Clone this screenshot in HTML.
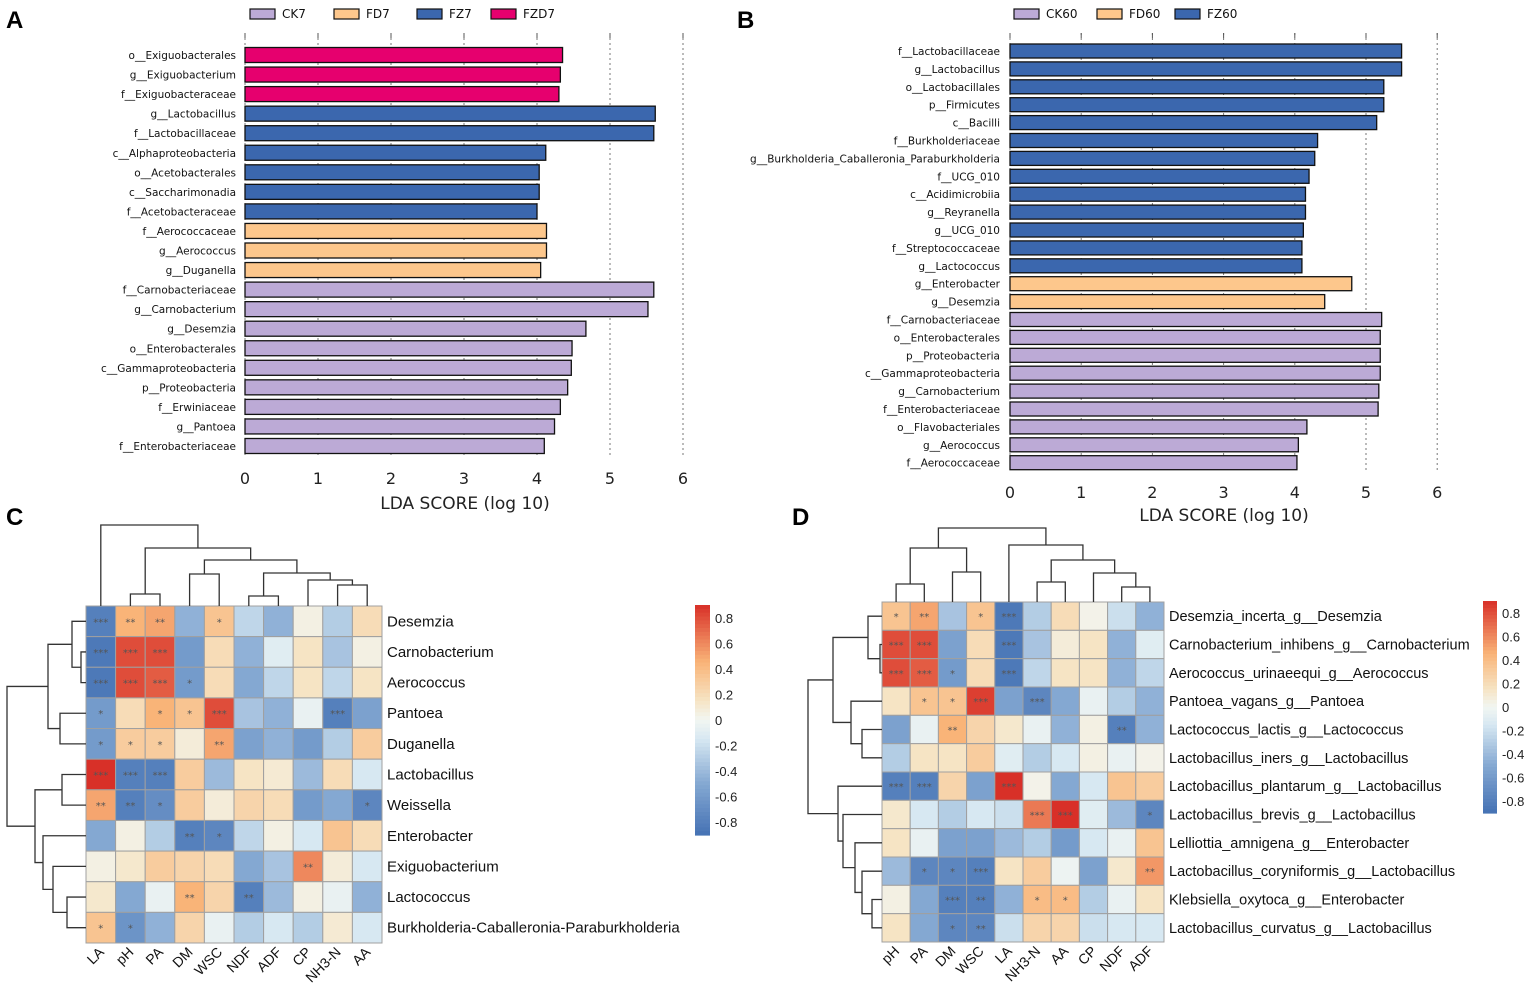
<!DOCTYPE html>
<html><head><meta charset="utf-8">
<style>
html,body{margin:0;padding:0;background:#fff;}
svg{display:block;font-family:"DejaVu Sans","Liberation Sans",sans-serif;}
</style></head>
<body>
<svg id="fig" width="1535" height="1008" viewBox="0 0 1535 1008" xmlns="http://www.w3.org/2000/svg">
<text x="6" y="28" font-size="24" font-weight="bold" font-family="Liberation Sans, sans-serif">A</text>
<text x="737" y="28" font-size="24" font-weight="bold" font-family="Liberation Sans, sans-serif">B</text>
<text x="6" y="525" font-size="24" font-weight="bold" font-family="Liberation Sans, sans-serif">C</text>
<text x="792" y="525" font-size="24" font-weight="bold" font-family="Liberation Sans, sans-serif">D</text>
<g id="gA"></g>
<g id="gB"></g>
<g id="gC"></g>
<g id="gD"></g>
</svg>
<script>
// ---------- Data: Chart A ----------
const aLabels = ["o__Exiguobacterales","g__Exiguobacterium","f__Exiguobacteraceae","g__Lactobacillus","f__Lactobacillaceae","c__Alphaproteobacteria","o__Acetobacterales","c__Saccharimonadia","f__Acetobacteraceae","f__Aerococcaceae","g__Aerococcus","g__Duganella","f__Carnobacteriaceae","g__Carnobacterium","g__Desemzia","o__Enterobacterales","c__Gammaproteobacteria","p__Proteobacteria","f__Erwiniaceae","g__Pantoea","f__Enterobacteriaceae"];
const aValues = [4.35,4.32,4.30,5.62,5.60,4.12,4.03,4.03,4.00,4.13,4.13,4.05,5.60,5.52,4.67,4.48,4.47,4.42,4.32,4.24,4.10];
const aGroups = ["FZD7","FZD7","FZD7","FZ7","FZ7","FZ7","FZ7","FZ7","FZ7","FD7","FD7","FD7","CK7","CK7","CK7","CK7","CK7","CK7","CK7","CK7","CK7"];
const aLegend = ["CK7","FD7","FZ7","FZD7"];
// ---------- Data: Chart B ----------
const bLabels = ["f__Lactobacillaceae","g__Lactobacillus","o__Lactobacillales","p__Firmicutes","c__Bacilli","f__Burkholderiaceae","g__Burkholderia_Caballeronia_Paraburkholderia","f__UCG_010","c__Acidimicrobiia","g__Reyranella","g__UCG_010","f__Streptococcaceae","g__Lactococcus","g__Enterobacter","g__Desemzia","f__Carnobacteriaceae","o__Enterobacterales","p__Proteobacteria","c__Gammaproteobacteria","g__Carnobacterium","f__Enterobacteriaceae","o__Flavobacteriales","g__Aerococcus","f__Aerococcaceae"];
const bValues = [5.50,5.50,5.25,5.25,5.15,4.32,4.28,4.20,4.15,4.15,4.12,4.10,4.10,4.80,4.42,5.22,5.20,5.20,5.20,5.18,5.17,4.17,4.05,4.03];
const bGroups = ["FZ60","FZ60","FZ60","FZ60","FZ60","FZ60","FZ60","FZ60","FZ60","FZ60","FZ60","FZ60","FZ60","FD60","FD60","CK60","CK60","CK60","CK60","CK60","CK60","CK60","CK60","CK60"];
const bLegend = ["CK60","FD60","FZ60"];
const ldaTicks = [0,1,2,3,4,5,6];
// ---------- Data: Heatmap C ----------
const cRows = ["Desemzia","Carnobacterium","Aerococcus","Pantoea","Duganella","Lactobacillus","Weissella","Enterobacter","Exiguobacterium","Lactococcus","Burkholderia-Caballeronia-Paraburkholderia"];
const cCols = ["LA","pH","PA","DM","WSC","NDF","ADF","CP","NH3-N","AA"];
const cVals = [
[-0.8,0.45,0.5,-0.45,0.35,-0.25,-0.45,0.05,-0.3,0.2],
[-0.85,0.8,0.8,-0.6,0.2,-0.45,-0.1,0.15,-0.35,0.05],
[-0.85,0.8,0.75,-0.6,0.2,-0.5,-0.25,0.15,-0.25,0.15],
[-0.6,0.2,0.45,0.35,0.8,-0.35,-0.45,-0.05,-0.8,-0.55],
[-0.6,0.3,0.3,0.08,0.5,-0.55,-0.45,-0.6,-0.3,0.3],
[0.9,-0.8,-0.8,0.3,-0.4,0.15,0.1,-0.4,0.2,-0.15],
[0.5,-0.8,-0.7,0.3,0.08,0.25,0.2,-0.6,-0.5,-0.75],
[-0.5,0.05,-0.3,-0.8,-0.75,-0.25,0.05,-0.15,0.35,0.2],
[0.05,0.12,0.3,0.25,0.2,-0.5,-0.35,0.6,0.08,-0.15],
[0.12,-0.5,-0.05,0.45,0.25,-0.8,-0.4,0.05,-0.05,-0.45],
[0.35,-0.65,-0.45,0.25,-0.05,-0.3,-0.15,-0.3,0.1,-0.15]];
const cStars = [
["***","**","**","","*","","","","",""],
["***","***","***","","","","","","",""],
["***","***","***","*","","","","","",""],
["*","","*","*","***","","","","***",""],
["*","*","*","","**","","","","",""],
["***","***","***","","","","","","",""],
["**","**","*","","","","","","","*"],
["","","","**","*","","","","",""],
["","","","","","","","**","",""],
["","","","**","","**","","","",""],
["*","*","","","","","","","",""]];
// ---------- Data: Heatmap D ----------
const dRows = ["Desemzia_incerta_g__Desemzia","Carnobacterium_inhibens_g__Carnobacterium","Aerococcus_urinaeequi_g__Aerococcus","Pantoea_vagans_g__Pantoea","Lactococcus_lactis_g__Lactococcus","Lactobacillus_iners_g__Lactobacillus","Lactobacillus_plantarum_g__Lactobacillus","Lactobacillus_brevis_g__Lactobacillus","Lelliottia_amnigena_g__Enterobacter","Lactobacillus_coryniformis_g__Lactobacillus","Klebsiella_oxytoca_g__Enterobacter","Lactobacillus_curvatus_g__Lactobacillus"];
const dCols = ["pH","PA","DM","WSC","LA","NH3-N","AA","CP","NDF","ADF"];
const dVals = [
[0.35,0.5,-0.35,0.35,-0.85,-0.3,0.2,0.03,-0.2,-0.45],
[0.8,0.8,-0.55,0.2,-0.85,-0.35,0.08,0.15,-0.45,-0.1],
[0.8,0.75,-0.6,0.2,-0.85,-0.25,0.15,0.15,-0.45,-0.25],
[0.15,0.35,0.35,0.85,-0.55,-0.75,-0.5,-0.05,-0.3,-0.45],
[-0.55,-0.05,0.45,0.25,0.12,-0.05,-0.45,0.05,-0.8,-0.45],
[-0.3,0.15,0.15,0.3,-0.1,-0.3,-0.15,0.05,-0.05,0.03],
[-0.8,-0.8,0.25,-0.55,0.9,0.03,-0.5,-0.15,0.35,0.3],
[0.12,-0.15,-0.3,-0.15,-0.2,0.65,0.9,-0.1,-0.4,-0.75],
[0.15,-0.05,-0.55,-0.55,-0.4,-0.3,-0.6,-0.15,-0.05,0.35],
[-0.4,-0.75,-0.75,-0.8,0.15,0.3,-0.03,-0.55,0.12,0.55],
[0.05,-0.5,-0.8,-0.8,-0.45,0.4,0.4,-0.3,-0.05,0.15],
[0.15,-0.5,-0.75,-0.75,-0.2,0.25,0.25,-0.2,-0.15,-0.15]];
const dStars = [
["*","**","","*","***","","","","",""],
["***","***","","","***","","","","",""],
["***","***","*","","***","","","","",""],
["","*","*","***","","***","","","",""],
["","","**","","","","","","**",""],
["","","","","","","","","",""],
["***","***","","","***","","","","",""],
["","","","","","***","***","","","*"],
["","","","","","","","","",""],
["","*","*","***","","","","","","**"],
["","","***","**","","*","*","","",""],
["","","*","**","","","","","",""]];
const cbTicks = [0.8,0.6,0.4,0.2,0,-0.2,-0.4,-0.6,-0.8];

const NS="http://www.w3.org/2000/svg";
function mk(parent,tag,attrs,text){const e=document.createElementNS(NS,tag);for(const k in attrs)e.setAttribute(k,attrs[k]);if(text!==undefined)e.textContent=text;parent.appendChild(e);return e;}
const groupColor={CK7:"#bcaad6",FD7:"#fdc78c",FZ7:"#3b67ae",FZD7:"#e6006e",CK60:"#bcaad6",FD60:"#fdc78c",FZ60:"#3b67ae"};

function ldaChart(g,labels,values,groups,legend,o){
  const xs=v=>o.x0+v*o.unit;
  ldaTicks.forEach(t=>{
    const l=mk(g,"line",{x1:xs(t),x2:xs(t),y1:o.gTop,y2:o.gBot,stroke:"#777","stroke-width":1,"stroke-dasharray":"2,3"});
    
    
    const tk=mk(g,"line",{x1:xs(t),x2:xs(t),y1:o.gTop,y2:o.gTop+5,stroke:"#555","stroke-width":1});
    
    
    const tl=mk(g,"text",{x:xs(t),y:o.tickY,"text-anchor":"middle","font-size":16,fill:"#222"},String(t));
    
    
  });
  labels.forEach((lab,i)=>{
    const cy=o.y0+i*o.step;
    const r=mk(g,"rect",{x:xs(0),y:cy-o.h/2,width:xs(values[i])-xs(0),height:o.h,fill:groupColor[groups[i]],stroke:"#111","stroke-width":1.3});
    
    
    const t=mk(g,"text",{x:o.labelX,y:cy+4,"text-anchor":"end","font-size":10.5,fill:"#111"},lab);
    
    
  });
  const at=mk(g,"text",{x:o.titleX,y:o.titleY,"text-anchor":"middle","font-size":17,fill:"#222"},"LDA SCORE (log 10)");
  
  
  legend.forEach((lg,i)=>{
    const lx=o.legX[i];
    const s=mk(g,"rect",{x:lx,y:9,width:25,height:10,fill:groupColor[lg],stroke:"#111","stroke-width":1.2});
    
    
    const t=mk(g,"text",{x:lx+32,y:18,"font-size":12,fill:"#111"},lg);
    
    
  });
}
ldaChart(document.getElementById("gA"),aLabels,aValues,aGroups,aLegend,{x0:245,unit:73,y0:55,step:19.55,h:15,gTop:33,gBot:455,tickY:484,labelX:236,titleX:465,titleY:509,legX:[250,334,417,491]});
ldaChart(document.getElementById("gB"),bLabels,bValues,bGroups,bLegend,{x0:1010,unit:71.2,y0:51,step:17.9,h:14,gTop:33,gBot:470,tickY:498,labelX:1000,titleX:1224,titleY:521,legX:[1014,1097,1175]});

const stops=[[-0.9,[69,114,180]],[-0.5,[132,168,210]],[-0.15,[215,232,242]],[0,[242,246,242]],[0.15,[246,228,196]],[0.45,[249,180,120]],[0.9,[216,48,40]]];
function cmap(v){v=Math.max(-0.9,Math.min(0.9,v));for(let i=0;i<stops.length-1;i++){const a=stops[i],b=stops[i+1];if(v<=b[0]){const t=(v-a[0])/(b[0]-a[0]);const c=a[1].map((x,k)=>Math.round(x+(b[1][k]-x)*t));return `rgb(${c[0]},${c[1]},${c[2]})`;}}return "rgb(216,48,40)";}

function heatmap(g,rows,cols,vals,stars,o){
  const cw=(o.x1-o.x0)/cols.length, ch=(o.y1-o.y0)/rows.length;
  rows.forEach((rn,i)=>{
    cols.forEach((cn,j)=>{
      const r=mk(g,"rect",{x:o.x0+j*cw,y:o.y0+i*ch,width:cw,height:ch,fill:cmap(vals[i][j]),stroke:"#a0a0a0","stroke-width":1});
      
      
      if(stars[i][j]){
        const s=mk(g,"text",{x:o.x0+(j+0.5)*cw,y:o.y0+(i+0.5)*ch+4,"text-anchor":"middle","font-size":10,fill:"#555"},stars[i][j]);
        
        
      }
    });
    const t=mk(g,"text",{x:o.x1+5,y:o.y0+(i+0.5)*ch+5,"font-size":o.fs,fill:"#111","font-family":"Liberation Sans, sans-serif"},rn);
    
    
  });
  cols.forEach((cn,j)=>{
    const cx=o.x0+(j+0.5)*cw+4, cy=o.y1+10;
    const t=mk(g,"text",{x:cx,y:cy,"text-anchor":"end","font-size":14,fill:"#111","font-family":"Liberation Sans, sans-serif",transform:`rotate(-45 ${cx} ${cy})`},cn);
    
    
  });
  const cb=o.cb, n=60;
  for(let k=0;k<n;k++){
    const v=0.9-1.8*(k+0.5)/n;
    const r=mk(g,"rect",{x:cb.x,y:cb.y0+k*(cb.y1-cb.y0)/n,width:cb.w,height:(cb.y1-cb.y0)/n+0.6,fill:cmap(v)});
    
    
  }
  cbTicks.forEach(t=>{
    const y=cb.y0+(0.9-t)/1.8*(cb.y1-cb.y0);
    const tl=mk(g,"text",{x:cb.x+cb.w+5,y:y+5,"font-size":13,fill:"#222","font-family":"Liberation Sans, sans-serif"},String(t));
    
    
  });
  function drawTree(tree,orient){
    if(typeof tree==="number"){
      return orient==="top"?[o.x0+(tree+0.5)*cw,o.y0]:[o.y0+(tree+0.5)*ch,o.x0];
    }
    const a=drawTree(tree[0],orient), b=drawTree(tree[1],orient), h=tree[2];
    let d;
    if(orient==="top") d=`M${a[0]},${a[1]}V${h}H${b[0]}V${b[1]}`;
    else d=`M${a[1]},${a[0]}H${h}V${b[0]}H${b[1]}`;
    const p=mk(g,"path",{d:d,fill:"none",stroke:"#333","stroke-width":1.3});
    
    
    return [(a[0]+b[0])/2,h];
  }
  drawTree(o.topTree,"top");
  drawTree(o.leftTree,"left");
}
heatmap(document.getElementById("gC"),cRows,cCols,cVals,cStars,{x0:86,x1:382,y0:606,y1:943,fs:15,
  cb:{x:695,w:15,y0:605,y1:835},
  topTree:[0,[[1,2,594],[[3,4,574],[[5,6,596],[7,[8,9,585],580],573],560],548],525],
  leftTree:[[[0,[1,2,81],72],[3,4,60],48],[[5,6,62],[7,[8,[9,10,67],53],43],35],7]});
heatmap(document.getElementById("gD"),dRows,dCols,dVals,dStars,{x0:882,x1:1164,y0:602,y1:942,fs:14.5,
  cb:{x:1483,w:14,y0:601,y1:813},
  topTree:[[[0,1,584],[2,3,572],548],[4,[[5,6,582],[7,[8,9,587],573],560],545],528],
  leftTree:[[[0,[1,2,880],868],[3,[4,5,862],851],833],[6,[7,[8,[9,[10,11,872],862],855],843],838],808]});
</script>
</body></html>
